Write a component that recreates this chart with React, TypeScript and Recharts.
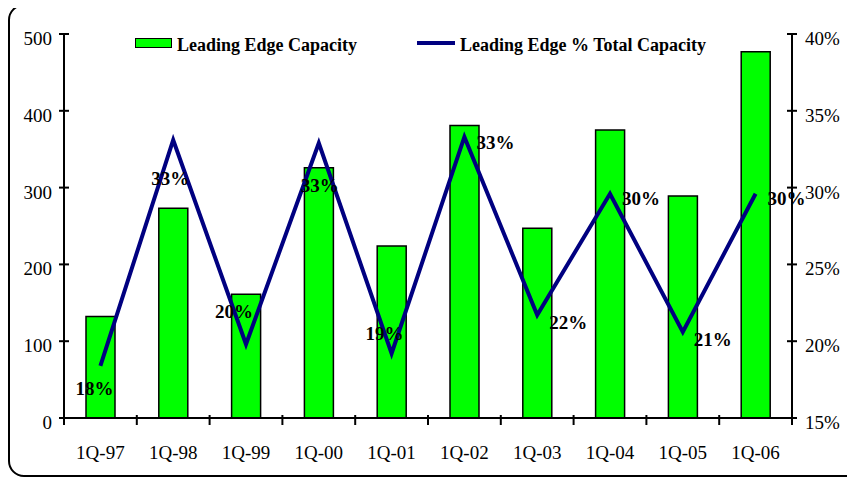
import { Bar, ComposedChart, LabelList, Legend, Line, XAxis, YAxis } from "recharts"

const quarters = ["1Q-97", "1Q-98", "1Q-99", "1Q-00", "1Q-01", "1Q-02", "1Q-03", "1Q-04", "1Q-05", "1Q-06"]
const capacity = [132, 273, 161, 326, 224, 381, 247, 375, 289, 477]
const pctOfTotal = [18.4, 33.1, 19.8, 32.9, 19.2, 33.3, 21.7, 29.6, 20.6, 29.6]
const leftTicks = [0, 100, 200, 300, 400, 500]
const rightTicks = [15, 20, 25, 30, 35, 40]

const data = quarters.map((q, i) => ({ quarter: q, capacity: capacity[i], pct: pctOfTotal[i] }))

// where each % label sits relative to its point (dx, dy of text centre)
const labelOffsets = [
  [-6, 22],
  [-3, 38],
  [-12, -33],
  [1, 42],
  [-7, -20],
  [31, 5],
  [31, 7],
  [31, 4],
  [30, 7],
  [31, 4],
]

const FONT = "'Liberation Serif', 'Times New Roman', serif"
const CHART_W = 841
const CHART_H = 468
const PLOT_LEFT = 54
const PLOT_RIGHT = 782
const HALF_BAND = (PLOT_RIGHT - PLOT_LEFT) / quarters.length / 2

const LeftTick = ({ x, y, payload }: any) => (
  <g>
    <line x1={x - 5} x2={x + 5} y1={y} y2={y} stroke="#000" strokeWidth={2} />
    <text x={x - 12} y={y + 11} textAnchor="end" fontSize={19} fontFamily={FONT} fill="#000">
      {payload.value}
    </text>
  </g>
)

const RightTick = ({ x, y, payload }: any) => (
  <g>
    <line x1={x - 5} x2={x + 5} y1={y} y2={y} stroke="#000" strokeWidth={2} />
    <text x={x + 13} y={y + 11} textAnchor="start" fontSize={19} fontFamily={FONT} fill="#000">
      {payload.value}%
    </text>
  </g>
)

const BottomTick = ({ x, y, payload, index }: any) => (
  <g>
    <line x1={x - HALF_BAND} x2={x - HALF_BAND} y1={y - 3} y2={y + 7} stroke="#000" strokeWidth={2} />
    {index === quarters.length - 1 && (
      <line x1={x + HALF_BAND} x2={x + HALF_BAND} y1={y - 3} y2={y + 7} stroke="#000" strokeWidth={2} />
    )}
    <text x={x} y={y + 41} textAnchor="middle" fontSize={19} fontFamily={FONT} fill="#000">
      {payload.value}
    </text>
  </g>
)

const PctLabel = ({ x, y, value, index }: any) => {
  const [dx, dy] = labelOffsets[index] || [0, 0]
  return (
    <text
      x={x + dx}
      y={y + dy + 7}
      textAnchor="middle"
      fontSize={19}
      fontWeight="bold"
      fontFamily={FONT}
      fill="#000"
    >
      {Math.round(value)}%
    </text>
  )
}

const legendText = {
  position: "absolute" as const,
  fontFamily: FONT,
  fontSize: 18,
  fontWeight: "bold" as const,
  lineHeight: "18px",
  whiteSpace: "nowrap" as const,
}

const LegendContent = ({ payload }: any) => {
  const items = payload || []
  const bar = items.find((p: any) => p.dataKey === "capacity")
  const line = items.find((p: any) => p.dataKey === "pct")
  return (
    <div style={{ position: "relative", width: CHART_W, height: 40 }}>
      <div
        style={{
          position: "absolute",
          left: 125,
          top: 6,
          width: 37,
          height: 10,
          background: "#00ff00",
          border: "1.5px solid #000",
          boxSizing: "border-box",
        }}
      />
      <div style={{ ...legendText, left: 167, top: 4 }}>{bar ? bar.value : ""}</div>
      <div style={{ position: "absolute", left: 407, top: 9, width: 38, height: 4, background: "#000080" }} />
      <div style={{ ...legendText, left: 450, top: 4 }}>{line ? line.value : ""}</div>
    </div>
  )
}

export default function App() {
  return (
    <div style={{ marginTop: -4, width: 847, height: 473, overflow: "hidden" }}>
      <div
        style={{
          width: 854,
          height: 473,
          border: "2px solid #000",
          borderRadius: 16,
          boxSizing: "border-box",
          background: "#fff",
        }}
      >
        <ComposedChart width={CHART_W} height={CHART_H} data={data} margin={{ top: 28, right: 0, left: 0, bottom: 0 }}>
          <XAxis
            dataKey="quarter"
            height={CHART_H - 412}
            axisLine={{ stroke: "#000", strokeWidth: 2 }}
            tickLine={false}
            tickSize={0}
            tickMargin={0}
            interval={0}
            tick={<BottomTick />}
          />
          <YAxis
            yAxisId="left"
            orientation="left"
            width={PLOT_LEFT}
            domain={[0, 500]}
            ticks={leftTicks}
            axisLine={{ stroke: "#000", strokeWidth: 2 }}
            tickLine={false}
            tickSize={0}
            tickMargin={0}
            tick={<LeftTick />}
          />
          <YAxis
            yAxisId="right"
            orientation="right"
            width={CHART_W - PLOT_RIGHT}
            domain={[15, 40]}
            ticks={rightTicks}
            axisLine={{ stroke: "#000", strokeWidth: 2 }}
            tickLine={false}
            tickSize={0}
            tickMargin={0}
            tick={<RightTick />}
          />
          <Legend
            layout="horizontal"
            verticalAlign="middle"
            align="center"
            wrapperStyle={{ top: 26, left: 0, width: CHART_W }}
            content={<LegendContent />}
          />
          <Bar
            yAxisId="left"
            dataKey="capacity"
            name="Leading Edge Capacity"
            fill="#00ff00"
            stroke="#000"
            strokeWidth={1.5}
            barSize={29}
            isAnimationActive={false}
          />
          <Line
            yAxisId="right"
            type="linear"
            dataKey="pct"
            name="Leading Edge % Total Capacity"
            stroke="#000080"
            strokeWidth={4}
            dot={false}
            isAnimationActive={false}
          >
            <LabelList dataKey="pct" content={<PctLabel />} />
          </Line>
        </ComposedChart>
      </div>
    </div>
  )
}
